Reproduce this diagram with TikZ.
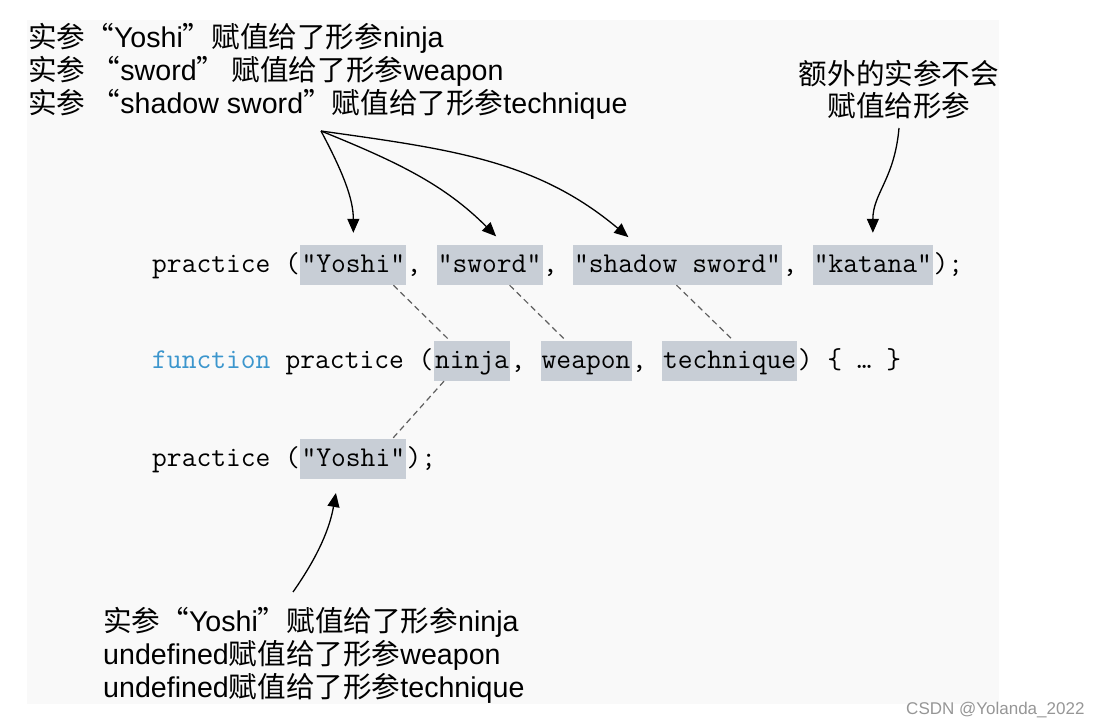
\documentclass[tikz,border=0pt]{standalone}
\usepackage{fontspec}
\setmainfont{Liberation Sans}
\newfontfamily\cjk{Noto Sans CJK SC}
\usetikzlibrary{positioning,arrows.meta}
\definecolor{panel}{RGB}{249,249,249}
\definecolor{hlgray}{RGB}{200,206,214}
\definecolor{kwblue}{RGB}{60,150,205}
\definecolor{dashgray}{RGB}{95,95,95}
\definecolor{markgray}{RGB}{150,150,150}
\newcommand\zh[1]{{\cjk #1}}
\tikzset{
  note/.style={font=\fontsize{28.6}{33}\selectfont, inner sep=0pt},
  code/.style={font=\fontsize{28.7}{30}\selectfont\ttfamily, inner sep=0pt, text height=28pt, text depth=12pt},
  hl/.style={code, fill=hlgray, inner xsep=1.2pt},
  link/.style={dashgray, line width=1.2pt, dash pattern=on 6pt off 4pt},
  pointer/.style={line width=1.3pt, -{Triangle[length=14pt,width=12pt]}, shorten >=12pt},
}
\begin{document}
\begin{tikzpicture}[x=1pt,y=1pt]
\useasboundingbox (0,0) rectangle (1102,726);
\fill[panel] (27,22) rectangle (999,706);

% notes
\node[note, anchor=base west] (top1) at (28,678) {\zh{实参“}Yoshi\zh{”赋值给了形参}ninja};
\node[note, anchor=base west] (top2) at ([yshift=-33pt]top1.base west) {\zh{实参 “}sword\zh{” 赋值给了形参}weapon};
\node[note, anchor=base west] (top3) at ([yshift=-33pt]top2.base west) {\zh{实参 “}shadow sword\zh{”赋值给了形参}technique};
\node[note, anchor=base] (extra1) at (899,641) {\zh{额外的实参不会}};
\node[note, anchor=base] (extra2) at ([yshift=-32pt]extra1.base) {\zh{赋值给形参}};
\node[note, anchor=base west] (bot1) at (103,95) {\zh{实参“}Yoshi\zh{”赋值给了形参}ninja};
\node[note, anchor=base west] (bot2) at ([yshift=-33pt]bot1.base west) {undefined\zh{赋值给了形参}weapon};
\node[note, anchor=base west] (bot3) at ([yshift=-33pt]bot2.base west) {undefined\zh{赋值给了形参}technique};

% call with four arguments
\node[code, anchor=base west] (call1) at (152,453) {practice (};
\node[hl, base right=0pt of call1] (yoshi1) {"Yoshi"};
\node[code, base right=0pt of yoshi1] (sep1) {,\hphantom{,}};
\node[hl, base right=0pt of sep1] (sword) {"sword"};
\node[code, base right=0pt of sword] (sep2) {,\hphantom{,}};
\node[hl, base right=0pt of sep2] (shadow) {"shadow sword"};
\node[code, base right=0pt of shadow] (sep3) {,\hphantom{,}};
\node[hl, base right=0pt of sep3] (katana) {"katana"};
\node[code, base right=0pt of katana] (end1) {);};

% declaration
\node[code, anchor=base west, text=kwblue] (kw) at (152,357) {function};
\node[code, base right=0pt of kw] (decl) {\hphantom{x}practice (};
\node[hl, base right=0pt of decl] (ninja) {ninja};
\node[code, base right=0pt of ninja] (sep4) {,\hphantom{,}};
\node[hl, base right=0pt of sep4] (weapon) {weapon};
\node[code, base right=0pt of weapon] (sep5) {,\hphantom{,}};
\node[hl, base right=0pt of sep5] (technique) {technique};
\node[code, base right=0pt of technique] (body) {) \{ … \}};

% call with one argument
\node[code, anchor=base west] (call3) at (152,259) {practice (};
\node[hl, base right=0pt of call3] (yoshi3) {"Yoshi"};
\node[code, base right=0pt of yoshi3] (end3) {);};

% dashed links
\draw[link] ([xshift=40pt]yoshi1.south) -- ([xshift=-22pt]ninja.north);
\draw[link] ([xshift=20pt]sword.south) -- ([xshift=-20pt]weapon.north);
\draw[link] ([xshift=-1pt]shadow.south) -- ([xshift=4pt]technique.north);
\draw[link] ([xshift=-28pt]ninja.south) -- ([xshift=39pt]yoshi3.north);

% arrows
\coordinate (fork) at (321,595);
\coordinate (tail) at (293,134);
\draw[pointer] (fork) to[out=-62,in=90] (yoshi1.north);
\draw[pointer] (fork) to[out=-22,in=135] ([xshift=15pt]sword.north);
\draw[pointer] (fork) to[out=-8,in=140] ([xshift=-40pt]shadow.north);
\draw[pointer] ([yshift=-11pt]extra2.base) to[out=-95,in=90,looseness=1.1] (katana.north);
\draw[pointer, shorten >=14pt] (tail) to[out=55,in=-100] ([xshift=-15pt]yoshi3.south);

\node[font=\fontsize{17}{20}\selectfont, text=markgray, anchor=base east] (mark) at (1088,12) {CSDN @Yolanda\_2022};
\end{tikzpicture}
\end{document}
